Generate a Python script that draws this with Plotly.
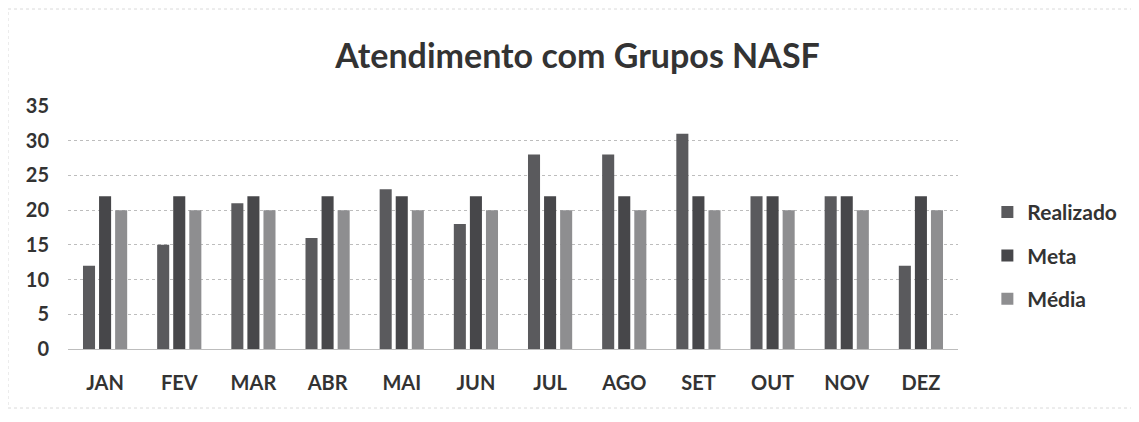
"""
Gráfico de barras: Atendimento com Grupos NASF.
"""
from plotly.graph_objects import Bar, Figure

# dados
meses = ["JAN", "FEV", "MAR", "ABR", "MAI", "JUN",
         "JUL", "AGO", "SET", "OUT", "NOV", "DEZ"]
realizado = [12, 15, 21, 16, 23, 18, 28, 28, 31, 22, 22, 12]
meta = [22, 22, 22, 22, 22, 22, 22, 22, 22, 22, 22, 22]
media = [20, 20, 20, 20, 20, 20, 20, 20, 20, 20, 20, 20]

FONTE = "Lato"
TEXTO = "#333333"


def main():
    """
    Monta e grava a figura.
    """
    fig = Figure()
    series = [("Realizado", realizado, "#5a5a5d"),
              ("Meta", meta, "#47474a"),
              ("Média", media, "#8e8e90")]
    for nome, valores, cor in series:
        fig.add_trace(Bar(x=meses, y=valores, name=nome, marker_color=cor,
                          marker_line_width=0, legendgroup=nome))

    fig.update_layout(
        width=1139, height=422,
        paper_bgcolor="white", plot_bgcolor="white",
        margin={"l": 60, "r": 189, "t": 98, "b": 81},
        font={"family": FONTE, "color": TEXTO},
        title={"text": "<b>Atendimento com Grupos NASF</b>",
               "x": 0.5, "xanchor": "center", "y": 0.885, "yanchor": "middle",
               "font": {"size": 34, "color": TEXTO}},
        barmode="group", bargap=0.35, bargroupgap=0.25,
        legend={"x": 1.033, "xanchor": "left", "y": 0.385, "yanchor": "middle",
                "font": {"size": 21, "color": TEXTO, "weight": "bold"},
                "tracegroupgap": 13, "itemwidth": 30},
        showlegend=True,
    )
    # moldura clara do gráfico
    fig.add_shape(type="rect", xref="paper", yref="paper",
                  x0=-60 / 890, x1=1 + 175 / 890,
                  y0=-59 / 243, y1=1 + 97 / 243,
                  line={"color": "#dadada", "width": 1, "dash": "dot"})
    fig.update_xaxes(tickfont={"size": 20, "weight": "bold"},
                     ticklabelstandoff=16, showline=True,
                     linecolor="#bdbdbd", linewidth=1)
    fig.update_yaxes(range=[0, 35], dtick=5, showgrid=True,
                     gridcolor="#bdbdbd", gridwidth=1, griddash="dot",
                     zeroline=False, tickfont={"size": 20, "weight": "bold"},
                     ticklabelstandoff=18)
    fig.write_html("out.html")


if __name__ == "__main__":
    main()
